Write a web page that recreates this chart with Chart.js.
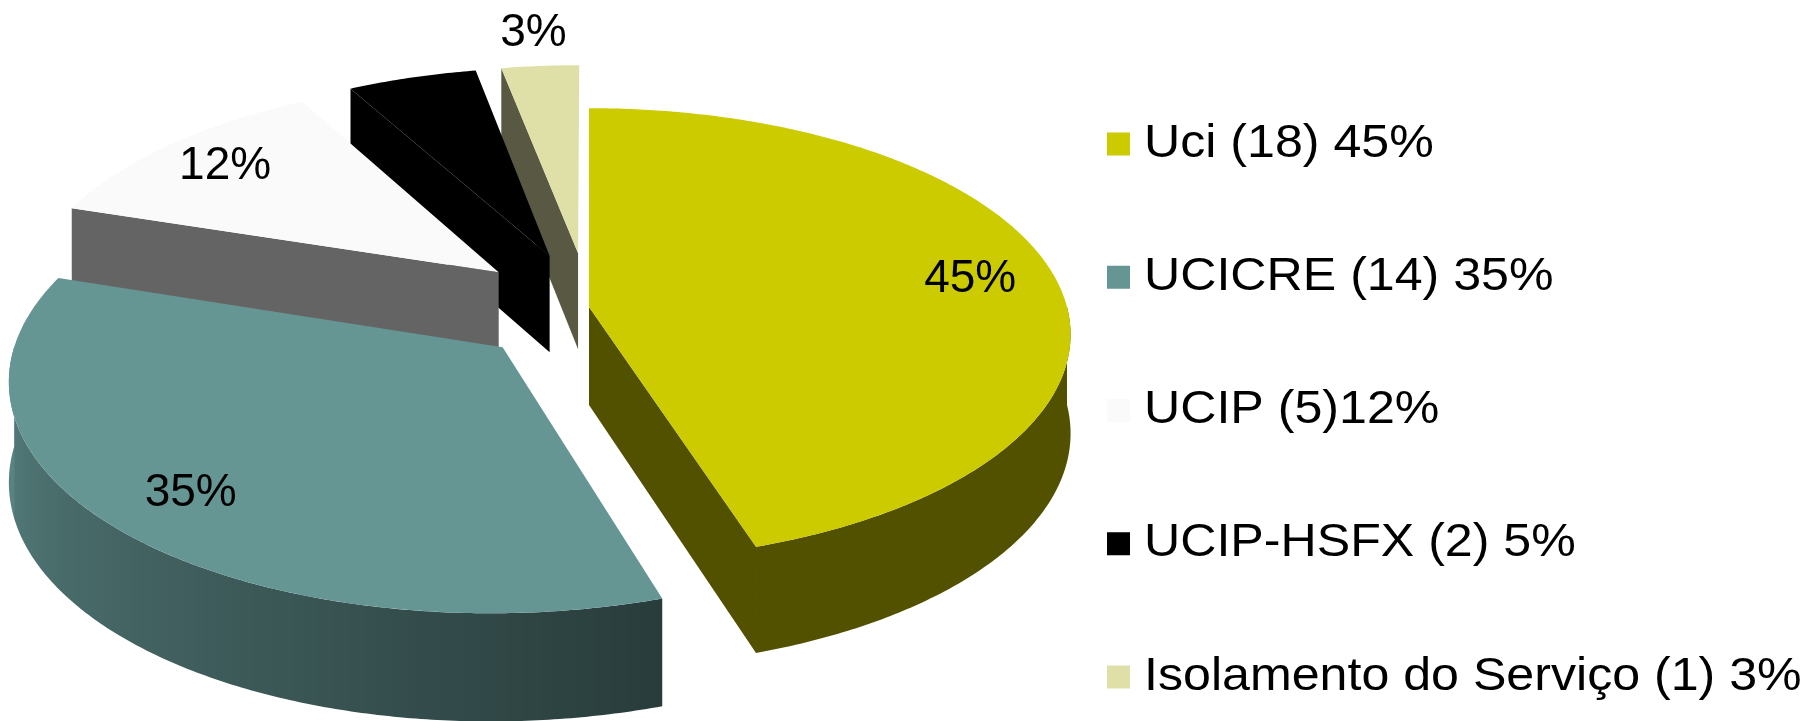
<!DOCTYPE html>
<html>
<head>
<meta charset="utf-8">
<title>Doentes por unidade</title>
<script src="https://cdn.jsdelivr.net/npm/chart.js@4.4.1/dist/chart.umd.min.js"></script>
<style>
  html, body { margin: 0; padding: 0; background: #fff; }
</style>
</head>
<body>
<canvas id="pieChart" width="1812" height="721"></canvas>
<script>
'use strict'

var units = ["Uci", "UCICRE", "UCIP", "UCIP-HSFX", "Isolamento do Serviço"];
var patients = [18, 14, 5, 2, 1];
var shares = [45, 35, 12, 5, 3];
var legendText = ["Uci (18) 45%", "UCICRE (14) 35%", "UCIP (5)12%", "UCIP-HSFX (2) 5%", "Isolamento do Serviço (1) 3%"];
var sliceColors = ["#cbcb00", "#659694", "#fafafa", "#000000", "#dfdfa8"];
var explode = [0, 0.25, 0.25, 0.25, 0.25];

// tilted view of the disc: centre, radii, perspective and thickness
var view = { cx: 589, cy: 307, rx: 478, ry: 223, persp: 0.1216, depth: 98, depthPersp: 0.08 };
var FONT = '"Liberation Sans", Arial, sans-serif';

function project(X, Z, low) {
    var s = 1 - view.persp * Z;
    var y = view.cy + view.ry * Z / s;
    if (low) y += view.depth / (1 - view.depthPersp * Z);
    return { x: view.cx + view.rx * X / s, y: y };
}

function darker(hex, k) {
    var n = parseInt(hex.slice(1), 16);
    var r = Math.round(((n >> 16) & 255) * k);
    var g = Math.round(((n >> 8) & 255) * k);
    var b = Math.round((n & 255) * k);
    return 'rgb(' + r + ',' + g + ',' + b + ')';
}

// light falls from the left, so the rim brightens towards 180deg
function rimLight(t) {
    var f = (t - 0.4 * Math.PI) / (0.6 * Math.PI);
    f = Math.max(0, Math.min(1, f));
    return 0.4 + 0.47 * f;
}

function rimPoint(sl, t, low) {
    return project(sl.ox + Math.cos(t), sl.oz + Math.sin(t), low);
}

function drawRim(c, sl, t0, t1) {
    var n = Math.max(2, Math.ceil((t1 - t0) / 0.01));
    var i, p, t;
    c.beginPath();
    for (i = 0; i <= n; i++) {
        p = rimPoint(sl, t0 + (t1 - t0) * i / n, false);
        if (i === 0) c.moveTo(p.x, p.y); else c.lineTo(p.x, p.y);
    }
    for (i = n; i >= 0; i--) {
        p = rimPoint(sl, t0 + (t1 - t0) * i / n, true);
        c.lineTo(p.x, p.y);
    }
    c.closePath();

    var xa = rimPoint(sl, t0, false).x, xb = rimPoint(sl, t1, false).x;
    var grad = c.createLinearGradient(xb, 0, xa, 0);
    var last = -1;
    for (i = n; i >= 0; i--) {
        t = t0 + (t1 - t0) * i / n;
        var pos = (rimPoint(sl, t, false).x - xb) / (xa - xb);
        if (pos > last && pos >= 0 && pos <= 1) {
            grad.addColorStop(pos, darker(sl.color, rimLight(t)));
            last = pos;
        }
    }
    c.fillStyle = grad;
    c.fill();
}

function drawCut(c, sl, t) {
    var a = project(sl.ox, sl.oz, false), b = rimPoint(sl, t, false);
    var bl = rimPoint(sl, t, true), al = project(sl.ox, sl.oz, true);
    c.beginPath();
    c.moveTo(a.x, a.y); c.lineTo(b.x, b.y); c.lineTo(bl.x, bl.y); c.lineTo(al.x, al.y);
    c.closePath();
    c.fillStyle = darker(sl.color, 0.4);
    c.fill();
}

function drawTop(c, sl) {
    var n = Math.max(2, Math.ceil((sl.a1 - sl.a0) / 0.01));
    var a = project(sl.ox, sl.oz, false);
    c.beginPath();
    c.moveTo(a.x, a.y);
    for (var i = 0; i <= n; i++) {
        var p = rimPoint(sl, sl.a0 + (sl.a1 - sl.a0) * i / n, false);
        c.lineTo(p.x, p.y);
    }
    c.closePath();
    c.fillStyle = sl.color;
    c.fill();
}

var pie3d = {
    id: 'pie3d',
    beforeDatasetsDraw: function(chart) {
        var c = chart.ctx;
        var ds = chart.data.datasets[0];
        var slices = chart.getDatasetMeta(0).data.map(function(arc, i) {
            var a0 = arc.startAngle, a1 = arc.endAngle, mid = (a0 + a1) / 2;
            var ex = ds.explode[i];
            return { i: i, a0: a0, a1: a1, mid: mid, color: ds.backgroundColor[i],
                     ox: ex * Math.cos(mid), oz: ex * Math.sin(mid) };
        });
        var order = slices.slice().sort(function(p, q) { return p.oz - q.oz; });

        c.save();
        // walls first, back to front
        order.forEach(function(sl) {
            var t0 = Math.max(sl.a0, 0), t1 = Math.min(sl.a1, Math.PI);
            if (Math.cos(sl.a0) < -1e-6) drawCut(c, sl, sl.a0);
            if (Math.cos(sl.a1) > 1e-6) drawCut(c, sl, sl.a1);
            if (t1 > t0) drawRim(c, sl, t0, t1);
        });
        order.forEach(function(sl) { drawTop(c, sl); });

        // percentage labels, small slices get theirs outside
        c.font = '46px ' + FONT;
        c.textAlign = 'center';
        c.textBaseline = 'middle';
        c.fillStyle = '#000';
        slices.forEach(function(sl) {
            var v = ds.data[sl.i];
            var r = v < 4 ? 1.2 : 0.82;
            var p = project(sl.ox + r * Math.cos(sl.mid), sl.oz + r * Math.sin(sl.mid), false);
            c.fillText(v + '%', p.x, p.y);
        });
        c.restore();
        return false;
    }
};

var sideLegend = {
    id: 'sideLegend',
    afterDraw: function(chart) {
        var c = chart.ctx;
        var labels = chart.data.labels;
        var colors = chart.data.datasets[0].backgroundColor;
        c.save();
        c.font = '46px ' + FONT;
        c.textBaseline = 'middle';
        labels.forEach(function(text, i) {
            var y = 144 + i * 133.25;
            c.fillStyle = colors[i];
            c.fillRect(1107, y - 11.5, 23, 23);
            c.save();
            c.translate(1144, y);
            c.scale(1.09, 1);
            c.fillStyle = '#000';
            c.fillText(text, 0, 0);
            c.restore();
        });
        c.restore();
    }
};

var ctx = document.getElementById("pieChart").getContext("2d");

var myChart = new Chart(ctx, {
    type: 'pie',
    data: {
        labels: legendText,
        datasets: [{
            label: 'Doentes',
            data: shares,
            backgroundColor: sliceColors,
            borderWidth: 0,
            explode: explode
        }]
    },
    options: {
        responsive: false,
        animation: false,
        plugins: {
            legend: { display: false },
            tooltip: { enabled: false }
        }
    },
    plugins: [pie3d, sideLegend]
});
</script>
</body>
</html>
